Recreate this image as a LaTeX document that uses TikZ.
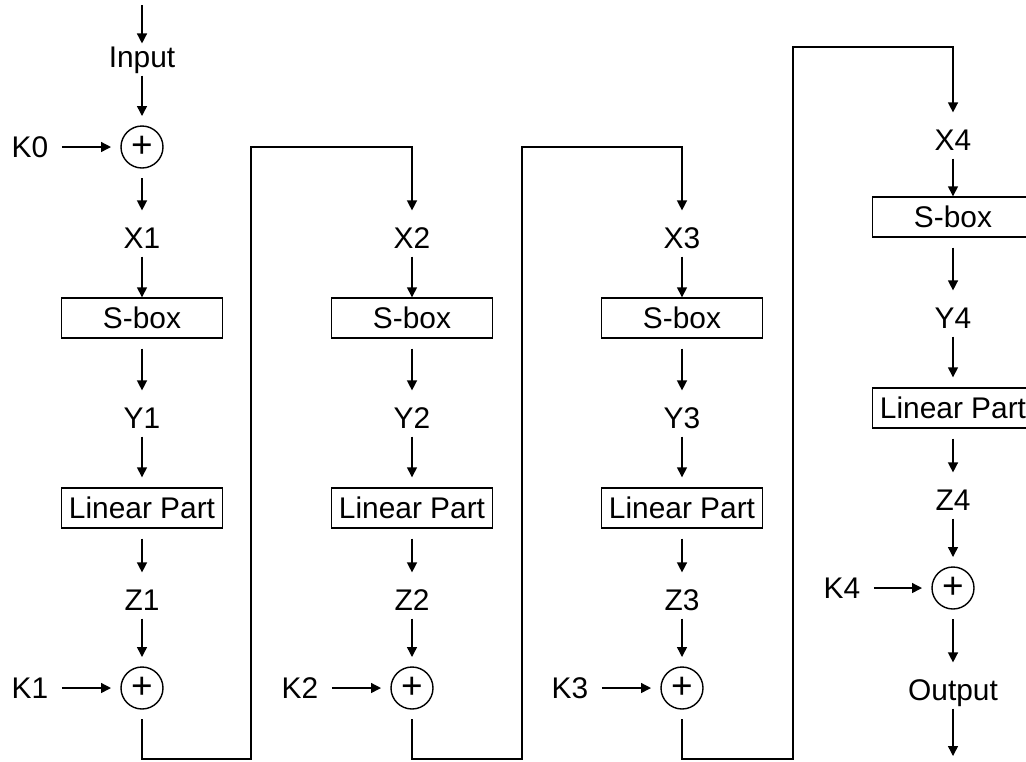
\documentclass[tikz,border=0pt]{standalone}
\usepackage{fontspec}
\setmainfont{Liberation Sans}
\usetikzlibrary{arrows.meta}

\begin{document}
\begin{tikzpicture}[x=0.2mm, y=-0.2mm, line width=0.8pt, >={Triangle[length=2mm,width=2mm]},
  font=\fontsize{17}{20}\selectfont,
  lbl/.style={inner sep=0pt, text height=21pt, text depth=4.5pt, anchor=base},
  klbl/.style={inner sep=0pt, inner xsep=2.6mm, text height=11.7pt, text depth=0pt},
  blk/.style={draw, minimum width=32.2mm, minimum height=8mm, inner sep=0pt},
  xr/.style={circle, draw, minimum size=8.4mm, inner sep=0pt, outer sep=2mm, font=\fontsize{21}{21}\selectfont}]
\useasboundingbox (0,0) rectangle (1026,761);
% input and first key
\coordinate (top) at (142,5);
\node[lbl, text height=13pt] (in) at (142,67) {Input};
\node[xr] (A0) at (142,147) {+};
\node[klbl] (K0) at (30,147) {K0};
% rounds 1 to 3
\foreach \i/\x/\r/\t in {1/142/251/147, 2/412/522/147, 3/682/793/47} {
  \node[lbl] (X\i) at (\x,248) {X\i};
  \node[blk] (S\i) at (\x,318) {S-box};
  \node[lbl] (Y\i) at (\x,428) {Y\i};
  \node[blk] (L\i) at (\x,508) {Linear Part};
  \node[lbl] (Z\i) at (\x,610) {Z\i};
  \node[xr] (A\i) at (\x,688) {+};
  \node[klbl] (K\i) at (\x-112,688) {K\i};
  \coordinate (d\i) at (\r,759);
  \coordinate (u\i) at (\r,\t);
}
% last round
\node[lbl] (X4) at (953,150) {X4};
\node[blk] (S4) at (953,217) {S-box};
\node[lbl] (Y4) at (953,328) {Y4};
\node[blk] (L4) at (953,408) {Linear Part};
\node[lbl] (Z4) at (953,510) {Z4};
\node[xr] (A4) at (953,588) {+};
\node[klbl] (K4) at (842,588) {K4};
\node[lbl] (out) at (953,700) {Output};
\coordinate (end) at (953,756);
% connectors
\draw[->] (top) -- (in);
\draw[->] (in) -- (A0);
\draw[->] (K0) -- (A0);
\draw[->] (A0) -- (X1);
\foreach \i in {1,...,4} {
  \draw[->] (X\i) -- (S\i);
  \draw[->, shorten <=2mm] (S\i) -- (Y\i);
  \draw[->, shorten >=2mm] (Y\i) -- (L\i);
  \draw[->, shorten <=2mm] (L\i) -- (Z\i);
  \draw[->] (Z\i) -- (A\i);
  \draw[->] (K\i) -- (A\i);
}
\foreach \i/\n in {1/2, 2/3, 3/4} \draw[->] (A\i) |- (d\i) -- (u\i) -| (X\n);
\draw[->] (A4) -- (out);
\draw[->] (out) -- (end);
\end{tikzpicture}
\end{document}
